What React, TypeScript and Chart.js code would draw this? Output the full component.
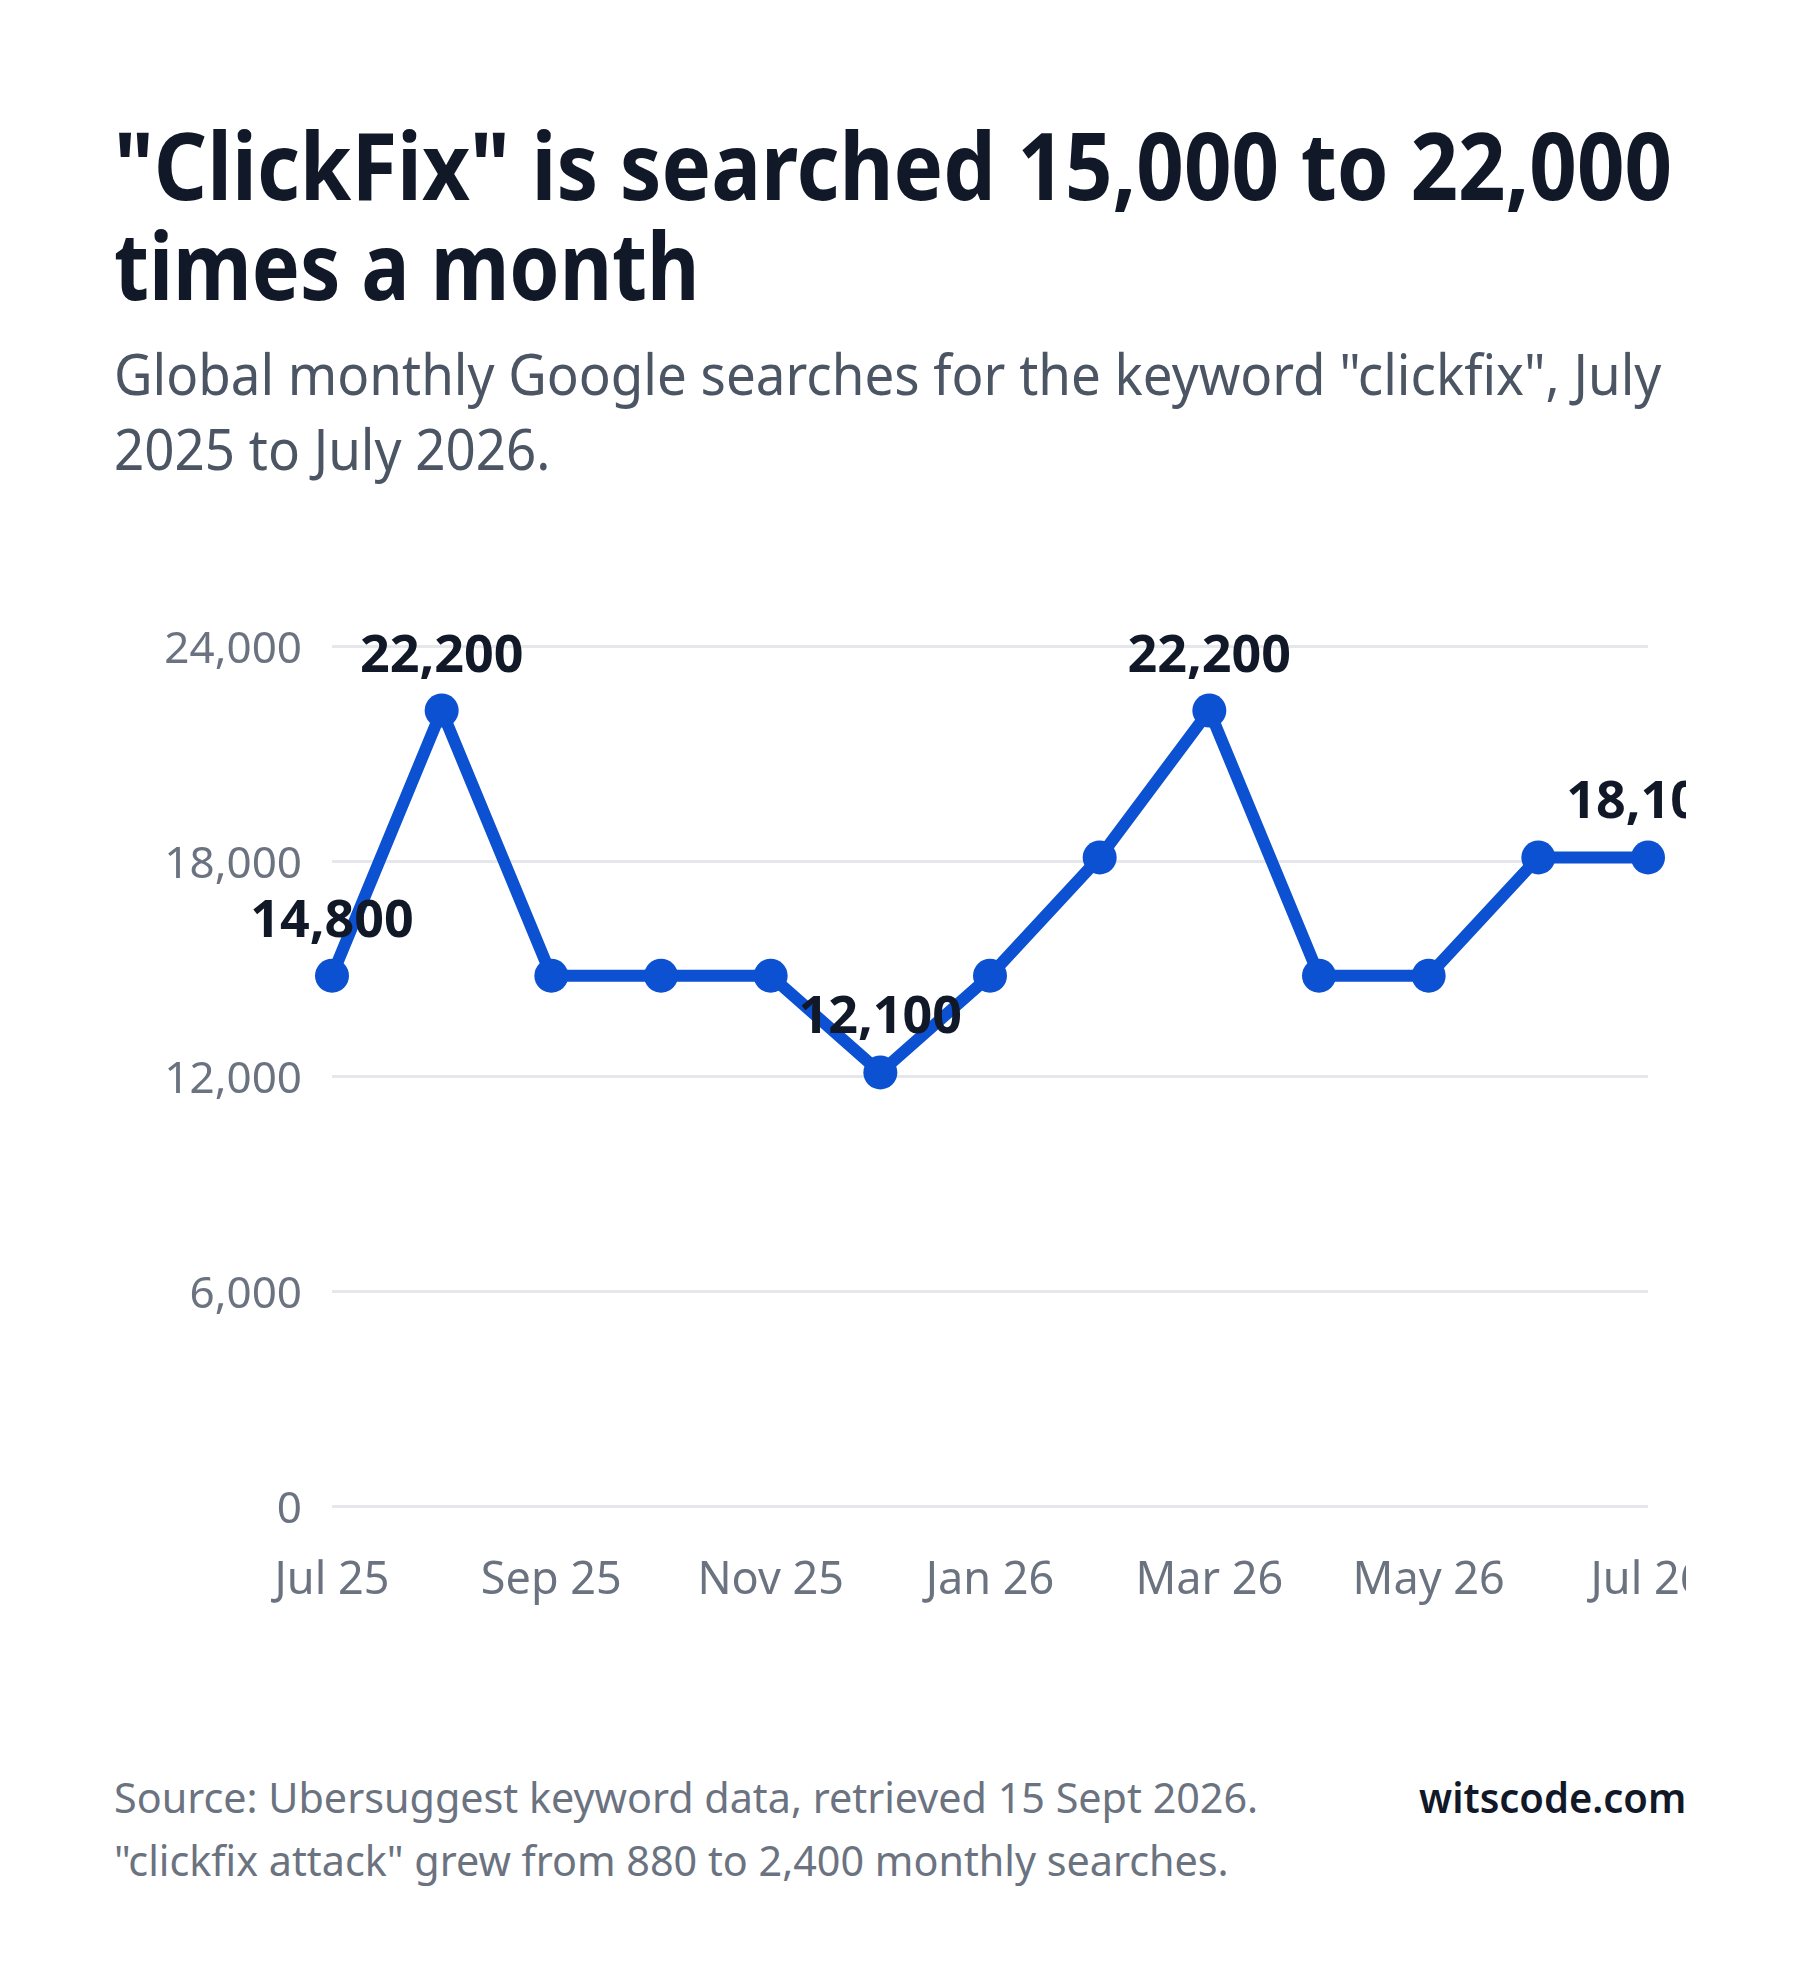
import React, { useEffect, useRef } from "react";
import { Chart, registerables } from "chart.js";

Chart.register(...registerables);

const categories = [
  "Jul 25", "Aug 25", "Sep 25", "Oct 25", "Nov 25", "Dec 25",
  "Jan 26", "Feb 26", "Mar 26", "Apr 26", "May 26", "Jun 26", "Jul 26",
];
const searches = [14800, 22200, 14800, 14800, 14800, 12100, 14800, 18100, 22200, 14800, 14800, 18100, 18100];
const yTicks = [0, 6000, 12000, 18000, 24000];

const TITLE_LINES = ['"ClickFix" is searched 15,000 to 22,000', "times a month"];
const TITLE_SCALES = [0.885, 0.858];
const SUBTITLE_LINES = ['Global monthly Google searches for the keyword "clickfix", July', "2025 to July 2026."];
const FOOTER_LINES = ["Source: Ubersuggest keyword data, retrieved 15 Sept 2026.", '"clickfix attack" grew from 880 to 2,400 monthly searches.'];
const BRAND = "witscode.com";

const FONT = '"Noto Sans", "Open Sans", sans-serif';
const LINE_COLOR = "#0b51d1";

const labelPlugin = {
  id: "valueLabels",
  afterDatasetsDraw(chart: any) {
    const meta = chart.getDatasetMeta(0);
    const data = chart.data.datasets[0].data as number[];
    const max = Math.max(...data);
    const min = Math.min(...data);
    const ctx = chart.ctx;
    ctx.save();
    ctx.font = `700 52px ${FONT}`;
    ctx.fillStyle = "#111827";
    ctx.textAlign = "center";
    ctx.textBaseline = "alphabetic";
    data.forEach((v, i) => {
      if (i === 0 || i === data.length - 1 || v === max || v === min) {
        const pt = meta.data[i];
        ctx.fillText(v.toLocaleString("en-US"), pt.x, pt.y - 39);
      }
    });
    ctx.restore();
  },
};

function LineChart() {
  const ref = useRef<HTMLCanvasElement | null>(null);
  useEffect(() => {
    if (!ref.current) return;
    const chart = new Chart(ref.current, {
      type: "line",
      data: {
        labels: categories,
        datasets: [
          {
            data: searches,
            borderColor: LINE_COLOR,
            backgroundColor: LINE_COLOR,
            borderWidth: 12,
            pointRadius: 17,
            pointHoverRadius: 17,
            pointBorderWidth: 0,
            pointBackgroundColor: LINE_COLOR,
            tension: 0,
            clip: false as any,
          },
        ],
      },
      options: {
        responsive: true,
        maintainAspectRatio: false,
        animation: false,
        layout: { padding: { top: 66, right: 38, left: 0, bottom: 0 } },
        plugins: { legend: { display: false }, tooltip: { enabled: false } },
        scales: {
          x: {
            offset: false,
            grid: { display: false, drawTicks: false },
            border: { display: false },
            ticks: {
              autoSkip: false,
              maxRotation: 0,
              padding: 48,
              color: "#6b7280",
              font: { family: FONT, size: 45 },
              callback: (_v: any, i: number) => (i % 2 === 0 ? categories[i] : ""),
            },
            afterFit: (s: any) => {
              s.height = 134;
              s.paddingLeft = 0;
              s.paddingRight = 0;
            },
          },
          y: {
            min: 0,
            max: 24000,
            afterBuildTicks: (s: any) => {
              s.ticks = yTicks.map((v) => ({ value: v }));
            },
            grid: { color: "#e5e7eb", lineWidth: 3, drawTicks: false },
            border: { display: false },
            ticks: {
              padding: 30,
              labelOffset: 4,
              color: "#6b7280",
              font: { family: FONT, size: 44 },
              callback: (v: any) => Number(v).toLocaleString("en-US"),
            },
            afterFit: (s: any) => {
              s.width = 218;
            },
          },
        },
      },
      plugins: [labelPlugin],
    });
    return () => chart.destroy();
  }, []);
  return <canvas ref={ref} />;
}

export default function App() {
  return (
    <div
      style={{
        position: "absolute",
        left: 0,
        top: 0,
        width: 1800,
        height: 1976,
        background: "#ffffff",
        fontFamily: FONT,
        overflow: "hidden",
      }}
    >
      <div
        style={{
          position: "absolute",
          left: 114,
          top: 113.5,
          fontSize: 94,
          lineHeight: "100px",
          fontWeight: 700,
          color: "#111827",
          whiteSpace: "nowrap",
        }}
      >
        {TITLE_LINES.map((l, i) => (
          <div key={l} style={{ transform: `scaleX(${TITLE_SCALES[i]})`, transformOrigin: "left top" }}>
            {l}
          </div>
        ))}
      </div>
      <div
        style={{
          position: "absolute",
          left: 114,
          top: 336,
          fontSize: 56,
          lineHeight: "75px",
          color: "#4b5563",
          whiteSpace: "nowrap",
          transform: "scaleX(0.945)",
          transformOrigin: "left top",
        }}
      >
        {SUBTITLE_LINES.map((l) => (
          <div key={l}>{l}</div>
        ))}
      </div>
      <div style={{ position: "absolute", left: 114, top: 580, width: 1572, height: 1060 }}>
        <LineChart />
      </div>
      <div
        style={{
          position: "absolute",
          left: 114,
          top: 1765,
          fontSize: 42,
          lineHeight: "63px",
          color: "#6b7280",
          whiteSpace: "nowrap",
          transform: "scaleX(0.983)",
          transformOrigin: "left top",
        }}
      >
        {FOOTER_LINES.map((l) => (
          <div key={l}>{l}</div>
        ))}
      </div>
      <div
        style={{
          position: "absolute",
          right: 114,
          top: 1765,
          fontSize: 42,
          lineHeight: "63px",
          fontWeight: 600,
          color: "#111827",
          whiteSpace: "nowrap",
          transform: "scaleX(0.95)",
          transformOrigin: "right top",
        }}
      >
        {BRAND}
      </div>
    </div>
  );
}
